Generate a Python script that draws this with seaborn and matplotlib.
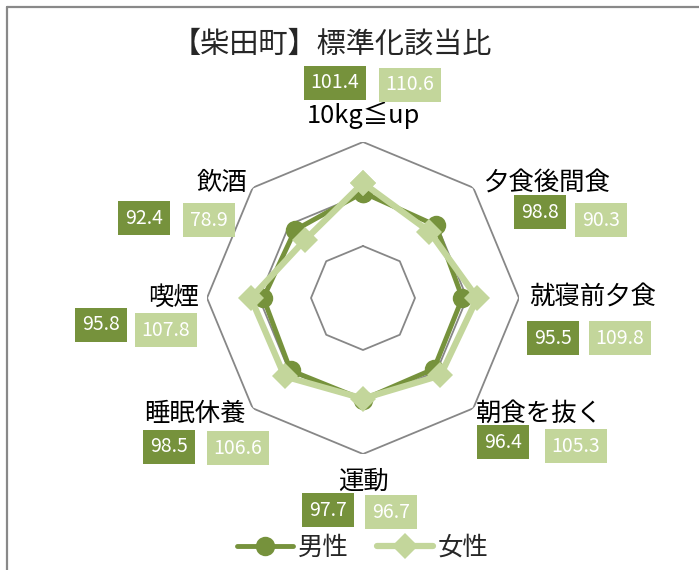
import numpy as np
import pandas as pd
import matplotlib
matplotlib.use("Agg")
import matplotlib.pyplot as plt
from matplotlib.lines import Line2D
import seaborn as sns

# ============================
# DATOS
# ============================

categories = ["10kg≦up", "夕食後間食", "就寝前夕食", "朝食を抜く",
              "運動", "睡眠休養", "喫煙", "飲酒"]
male = [101.4, 98.8, 95.5, 96.4, 97.7, 98.5, 95.8, 92.4]
female = [110.6, 90.3, 109.8, 105.3, 96.7, 106.6, 107.8, 78.9]
series_names = ["男性", "女性"]
grid_levels = [50, 100, 150]
title = "【柴田町】標準化該当比"

# ============================
# ESTILO / LAYOUT
# ============================

sns.set_style("white")
plt.rcParams["font.family"] = ["Noto Sans CJK JP", "DejaVu Sans"]

W, H = 699, 570
DARK = "#76923C"
LIGHT = "#C3D69B"
GRID = "#878787"

# posiciones (pixeles) de etiquetas de categoria y cajas de valores
cat_pos = [(363, 115), (546, 184), (593, 298), (539, 414),
           (363, 482), (195, 414), (173, 298), (222, 183)]
male_box = [(335, 83), (540, 212), (553, 338), (503, 442),
            (328, 510), (169, 447), (101, 325), (144, 218)]
female_box = [(410, 85), (601, 220), (620, 338), (576, 446),
              (391, 512), (238, 448), (166, 330), (209, 220)]


def fx(px):
    return px / W


def fy(py):
    return 1 - py / H


fig = plt.figure(figsize=(W / 100, H / 100), dpi=100)

cx, cy, rad = 363, 298, 156
ax = fig.add_axes([fx(cx - rad), fy(cy + rad), 2 * rad / W, 2 * rad / H],
                  projection="polar")
ax.set_theta_zero_location("N")
ax.set_theta_direction(-1)
ax.set_ylim(0, 150)
ax.grid(False)
ax.set_xticks([])
ax.set_yticks([])
ax.spines["polar"].set_visible(False)
ax.patch.set_alpha(0)

theta = np.linspace(0, 2 * np.pi, len(categories) + 1)

# rejilla octogonal
for g in grid_levels:
    ax.plot(theta, [g] * len(theta), color=GRID, lw=1.3, zorder=1)

df = pd.DataFrame({
    "theta": np.concatenate([theta, theta]),
    "value": male + male[:1] + female + female[:1],
    "sex": [series_names[0]] * len(theta) + [series_names[1]] * len(theta),
})

sns.lineplot(data=df[df.sex == "男性"], x="theta", y="value", sort=False,
             estimator=None, color=DARK, lw=3.5, marker="o", markersize=14,
             markeredgewidth=0, ax=ax, zorder=3, legend=False)
sns.lineplot(data=df[df.sex == "女性"], x="theta", y="value", sort=False,
             estimator=None, color=LIGHT, lw=4.5, marker="D", markersize=13.5,
             markeredgewidth=0, ax=ax, zorder=4, legend=False)
ax.set_xlabel("")
ax.set_ylabel("")
ax.set_ylim(0, 150)

# etiquetas de categoria y valores
for i, cat in enumerate(categories):
    fig.text(fx(cat_pos[i][0]), fy(cat_pos[i][1]), cat, ha="center",
             va="center", fontsize=18.3, color="black")
    fig.text(fx(male_box[i][0]), fy(male_box[i][1]), f"{male[i]:.1f}",
             ha="center", va="center", fontsize=14, color="white",
             bbox=dict(boxstyle="square,pad=0.35", fc=DARK, ec="none"))
    fig.text(fx(female_box[i][0]), fy(female_box[i][1]), f"{female[i]:.1f}",
             ha="center", va="center", fontsize=14, color="white",
             bbox=dict(boxstyle="square,pad=0.35", fc=LIGHT, ec="none"))

fig.text(fx(332), fy(45), title, ha="center", va="center", fontsize=21)

# leyenda
handles = [
    Line2D([], [], color=DARK, lw=3.5, marker="o", markersize=14, markeredgewidth=0),
    Line2D([], [], color=LIGHT, lw=4.5, marker="D", markersize=13.5, markeredgewidth=0),
]
fig.legend(handles, series_names, loc="center", bbox_to_anchor=(fx(363), fy(548)),
           ncol=2, frameon=False, fontsize=18.3, handlelength=2.2,
           handletextpad=0.2, columnspacing=1.1)

# borde del grafico
fig.add_artist(Line2D([fx(7), fx(7)], [fy(7), 0], color="#898989", lw=1.6))
fig.add_artist(Line2D([fx(7), 1], [fy(7), fy(7)], color="#898989", lw=1.6))

fig.savefig("out.png", dpi=100)
